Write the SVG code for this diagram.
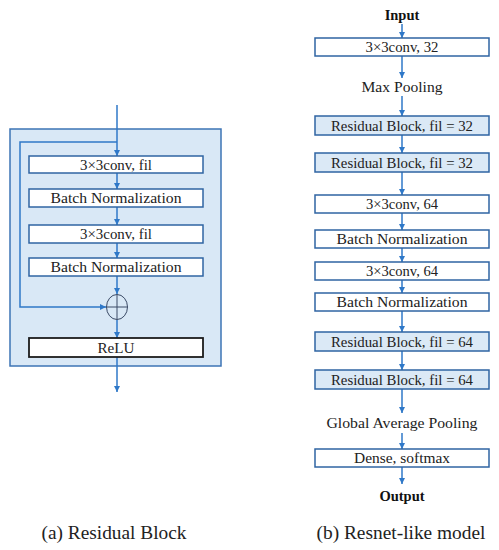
<svg xmlns="http://www.w3.org/2000/svg" width="499" height="550" viewBox="0 0 499 550">
<defs>
<marker id="ah" viewBox="0 0 10 10" refX="10" refY="5" markerWidth="6" markerHeight="6" markerUnits="userSpaceOnUse" orient="auto">
<path d="M0,0 L10,5 L0,10 z" fill="#2f78c8"/>
</marker>
<style>
.bx{fill:#ffffff;stroke:#2f64a3;stroke-width:1.5}
.bb{fill:#dbe9f6;stroke:#2f64a3;stroke-width:1.5}
.t{font-family:"Liberation Serif",serif;font-size:15px;fill:#222;text-anchor:middle;dominant-baseline:central}
.tb{font-family:"Liberation Serif",serif;font-size:14.5px;font-weight:bold;fill:#111;text-anchor:middle;dominant-baseline:central}
.cap{font-family:"Liberation Serif",serif;font-size:18.5px;fill:#222;text-anchor:middle;dominant-baseline:central}
.c{fill:none;stroke:#2f78c8;stroke-width:1.5}
.ca{fill:none;stroke:#2f78c8;stroke-width:1.5;marker-end:url(#ah)}
</style>
</defs>
<rect width="499" height="550" fill="#ffffff"/>

<g id="residual-block-panel">
<rect x="10" y="129" width="211" height="237" fill="#d9e8f6" stroke="#3d74b5" stroke-width="1.5"/>
</g>

<g id="connectors">
<line class="ca" x1="117" y1="105" x2="117" y2="156"/>
<polyline class="ca" points="117,142 20,142 20,307 106,307"/>
<line class="ca" x1="117" y1="173" x2="117" y2="189"/>
<line class="ca" x1="117" y1="207" x2="117" y2="225"/>
<line class="ca" x1="117" y1="243" x2="117" y2="258"/>
<line class="ca" x1="117" y1="276" x2="117" y2="294"/>
<line class="ca" x1="117" y1="320" x2="117" y2="338"/>
<line class="ca" x1="117" y1="357" x2="117" y2="392"/>
<line class="ca" x1="402" y1="24" x2="402" y2="38"/>
<line class="ca" x1="402" y1="56" x2="402" y2="78"/>
<line class="ca" x1="402" y1="96" x2="402" y2="116"/>
<line class="ca" x1="402" y1="135" x2="402" y2="153"/>
<line class="ca" x1="402" y1="172" x2="402" y2="195"/>
<line class="ca" x1="402" y1="213" x2="402" y2="230"/>
<line class="ca" x1="402" y1="248" x2="402" y2="262"/>
<line class="ca" x1="402" y1="280" x2="402" y2="293"/>
<line class="ca" x1="402" y1="311" x2="402" y2="332"/>
<line class="ca" x1="402" y1="351" x2="402" y2="370"/>
<line class="ca" x1="402" y1="389" x2="402" y2="413"/>
<line class="ca" x1="402" y1="433" x2="402" y2="449"/>
<line class="ca" x1="402" y1="467" x2="402" y2="484"/>
</g>

<g id="rb-conv1"><rect class="bx" x="29" y="156" width="174" height="17"/><text class="t" x="116" y="165" textLength="72" lengthAdjust="spacingAndGlyphs">3×3conv, fil</text></g>
<g id="rb-bn1"><rect class="bx" x="29" y="189" width="174" height="18"/><text class="t" x="116" y="198" textLength="131" lengthAdjust="spacingAndGlyphs">Batch Normalization</text></g>
<g id="rb-conv2"><rect class="bx" x="29" y="225" width="174" height="18"/><text class="t" x="116" y="234" textLength="72" lengthAdjust="spacingAndGlyphs">3×3conv, fil</text></g>
<g id="rb-bn2"><rect class="bx" x="29" y="258" width="174" height="18"/><text class="t" x="116" y="267" textLength="131" lengthAdjust="spacingAndGlyphs">Batch Normalization</text></g>
<g id="rb-add">
<ellipse cx="117" cy="307" rx="10.5" ry="12.5" fill="none" stroke="#3a4a66" stroke-width="1"/>
<line x1="106.5" y1="307" x2="127.5" y2="307" stroke="#3a4a66" stroke-width="1"/>
<line x1="117" y1="294.5" x2="117" y2="319.5" stroke="#3a4a66" stroke-width="1"/>
</g>
<g id="rb-relu"><rect x="29" y="338" width="174" height="19" fill="#fff" stroke="#1c1c1c" stroke-width="1.8"/><text class="t" x="116" y="347.5" textLength="37" lengthAdjust="spacingAndGlyphs">ReLU</text></g>

<g id="input"><text class="tb" x="402" y="15">Input</text></g>
<g id="conv32"><rect class="bx" x="315" y="38" width="174" height="18"/><text class="t" x="402" y="47" textLength="73" lengthAdjust="spacingAndGlyphs">3×3conv, 32</text></g>
<g id="maxpool"><text class="t" x="402" y="87" textLength="81" lengthAdjust="spacingAndGlyphs">Max Pooling</text></g>
<g id="res32a"><rect class="bb" x="315" y="116" width="174" height="19"/><text class="t" x="402" y="125.5" textLength="142" lengthAdjust="spacingAndGlyphs">Residual Block, fil = 32</text></g>
<g id="res32b"><rect class="bb" x="315" y="153" width="174" height="19"/><text class="t" x="402" y="162.5" textLength="142" lengthAdjust="spacingAndGlyphs">Residual Block, fil = 32</text></g>
<g id="conv64a"><rect class="bx" x="315" y="195" width="174" height="18"/><text class="t" x="402" y="204" textLength="72" lengthAdjust="spacingAndGlyphs">3×3conv, 64</text></g>
<g id="bn-a"><rect class="bx" x="315" y="230" width="174" height="18"/><text class="t" x="402" y="239" textLength="131" lengthAdjust="spacingAndGlyphs">Batch Normalization</text></g>
<g id="conv64b"><rect class="bx" x="315" y="262" width="174" height="18"/><text class="t" x="402" y="271" textLength="72" lengthAdjust="spacingAndGlyphs">3×3conv, 64</text></g>
<g id="bn-b"><rect class="bx" x="315" y="293" width="174" height="18"/><text class="t" x="402" y="302" textLength="131" lengthAdjust="spacingAndGlyphs">Batch Normalization</text></g>
<g id="res64a"><rect class="bb" x="315" y="332" width="174" height="19"/><text class="t" x="402" y="341.5" textLength="142" lengthAdjust="spacingAndGlyphs">Residual Block, fil = 64</text></g>
<g id="res64b"><rect class="bb" x="315" y="370" width="174" height="19"/><text class="t" x="402" y="379.5" textLength="142" lengthAdjust="spacingAndGlyphs">Residual Block, fil = 64</text></g>
<g id="gap"><text class="t" x="402" y="423" textLength="151" lengthAdjust="spacingAndGlyphs">Global Average Pooling</text></g>
<g id="dense"><rect class="bx" x="315" y="449" width="174" height="18"/><text class="t" x="402" y="458" textLength="96" lengthAdjust="spacingAndGlyphs">Dense, softmax</text></g>
<g id="output"><text class="tb" x="402" y="496">Output</text></g>

<text class="cap" x="114" y="533" textLength="145" lengthAdjust="spacingAndGlyphs">(a) Residual Block</text>
<text class="cap" x="401" y="533" textLength="169" lengthAdjust="spacingAndGlyphs">(b) Resnet-like model</text>
</svg>
